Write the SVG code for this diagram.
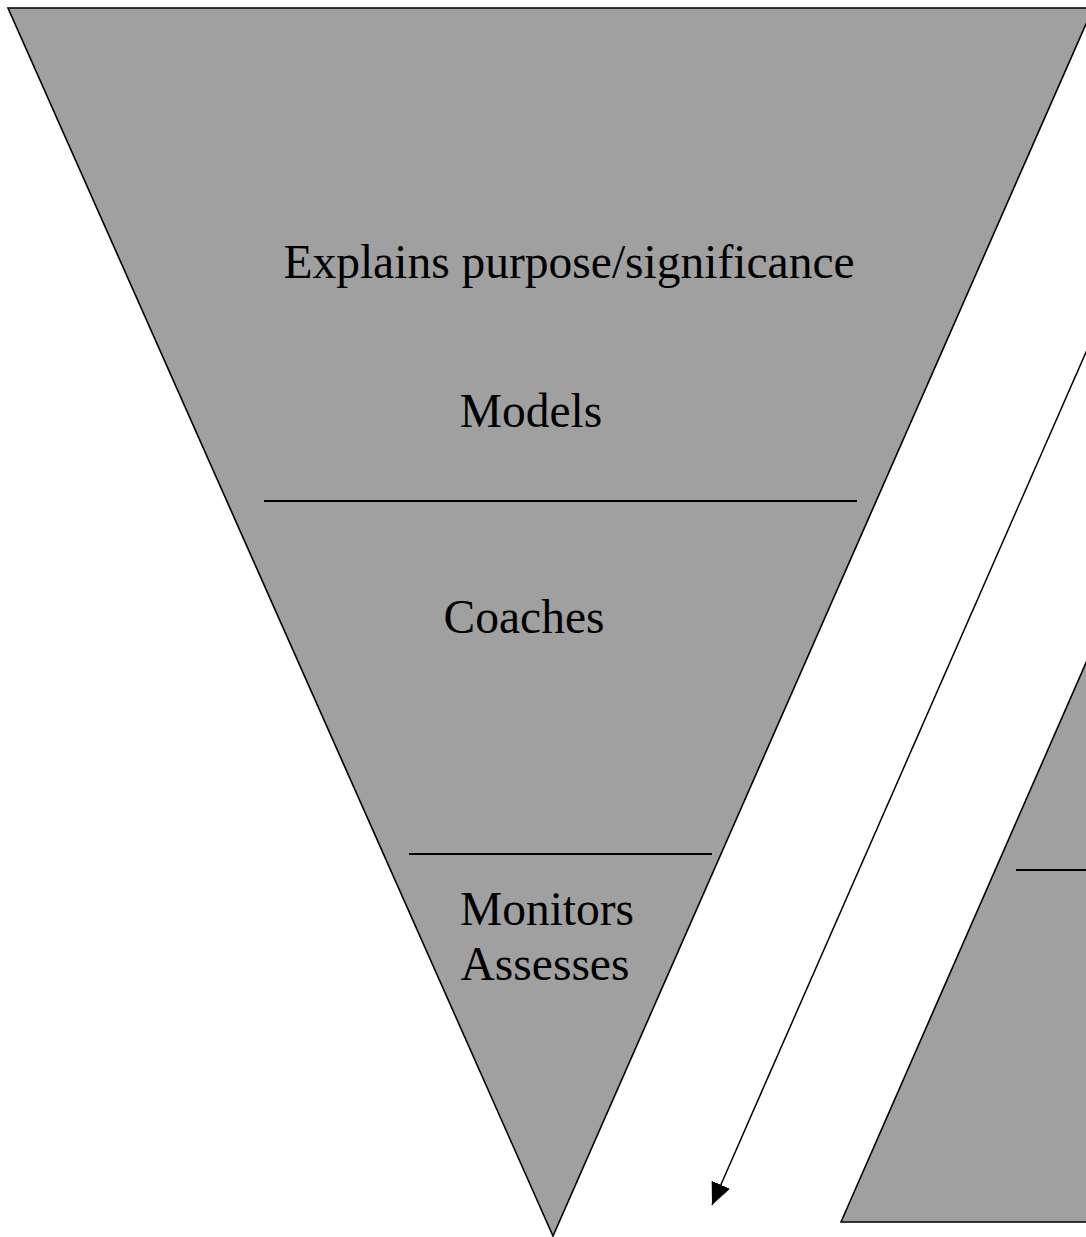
<svg xmlns="http://www.w3.org/2000/svg" width="1086" height="1237" viewBox="0 0 1086 1237">
<defs>
<style>
.shape{fill:#a0a0a0;stroke:#000;stroke-width:1.6;stroke-linejoin:miter}
.rule{stroke:#000;stroke-width:2;fill:none}
.lbl{font-family:"Liberation Serif","Times New Roman",serif;font-size:47.5px;fill:#000;text-anchor:middle}
</style>
<marker id="ah" markerUnits="userSpaceOnUse" markerWidth="24" markerHeight="22" refX="22" refY="10" orient="auto">
<path d="M0,0 L22,10 L0,20 z" fill="#000"/>
</marker>
</defs>
<rect width="1086" height="1237" fill="#fff"/>
<g id="funnel">
<polygon class="shape" points="8,8 1093,8 553,1236"/>
<line class="rule" x1="264" y1="501" x2="857" y2="501"/>
<line class="rule" x1="409" y1="854" x2="712" y2="854"/>
<text class="lbl" x="569" y="278">Explains purpose/significance</text>
<text class="lbl" x="531" y="427">Models</text>
<text class="lbl" x="524" y="633">Coaches</text>
<text class="lbl" x="547" y="925">Monitors</text>
<text class="lbl" x="545" y="980">Assesses</text>
</g>
<g id="pyramid">
<polygon class="shape" points="841,1222 1096,640 1100,640 1100,1222"/>
<line class="rule" x1="1016" y1="870" x2="1086" y2="870"/>
</g>
<g id="connectors">
<line x1="1090" y1="343" x2="712" y2="1205" stroke="#000" stroke-width="1.5" marker-end="url(#ah)"/>
</g>
</svg>
